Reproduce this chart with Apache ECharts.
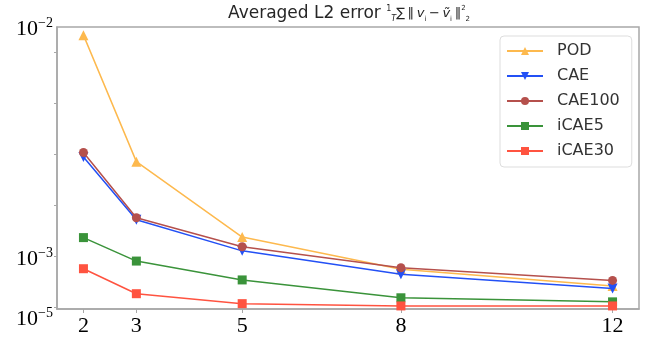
<!DOCTYPE html>
<html>
<head>
<meta charset="utf-8">
<script src="https://cdn.jsdelivr.net/npm/echarts@6/dist/echarts.min.js"></script>
<style>html,body{margin:0;padding:0;background:#fff}#c{width:647px;height:342px}</style>
</head>
<body>
<div id="c"></div>
<script>
// categories (x values)
var xs = [2, 3, 5, 8, 12];
// series values (axis units of 1e-3, as drawn on the linear axis)
var pod    = [5.33, 2.85, 1.37, 0.74, 0.41];
var cae    = [2.94, 1.71, 1.10, 0.64, 0.36];
var cae100 = [3.03, 1.75, 1.18, 0.77, 0.52];
var icae5  = [1.36, 0.90, 0.53, 0.18, 0.10];
var icae30 = [0.75, 0.26, 0.065, 0.02, 0.02];
var seriesNames = ['POD', 'CAE', 'CAE100', 'iCAE5', 'iCAE30'];
// y tick positions and labels
var yTicks = [0, 1, 2, 3, 4, 5];
var yMin = -0.04, yMax = 5.49;
var yLabelVals = [0, 1, yMax];
var yLabelText = {0: ['10', '−5'], 1: ['10', '−3'], top: ['10', '−2']};

var colors = ['#FDB94E', '#2350F5', '#B5504C', '#3A933A', '#FF5340'];
var symbols = ['triangle', 'triangle', 'circle', 'rect', 'rect'];
var rotates = [0, 180, 0, 0, 0];
var sizes = [10, 10, 9, 9, 9];
var allData = [pod, cae, cae100, icae5, icae30];

function pairs(arr){ return xs.map(function(x,i){ return [x, arr[i]]; }); }

var chart = echarts.init(document.getElementById('c'), null, {renderer:'canvas'});
var series = allData.map(function(d, k){
  return {
    name: seriesNames[k], type: 'line', data: pairs(d),
    symbol: symbols[k], symbolRotate: rotates[k], symbolSize: sizes[k],
    lineStyle: {color: colors[k], width: 1.5},
    itemStyle: {color: colors[k]},
    z: 2 + k
  };
});

var tc = '#262626';
function rs(size, va, lh, extra){
  var o = {fontFamily: 'DejaVu Sans', fontSize: size, fontWeight: 'normal', color: tc, verticalAlign: va, lineHeight: lh};
  for (var k in (extra||{})) o[k] = extra[k];
  return o;
}
function sr(size, lh, pad){
  return {fontFamily: 'Liberation Serif', fontSize: size, color: '#000', verticalAlign: 'bottom', lineHeight: lh, padding: pad};
}
function lab(t){ return '{b|' + t[0] + '}{s|' + t[1] + '}'; }

chart.setOption({
  animation: false,
  title: {
    left: 223, top: 0,
    text: '{a|Averaged L2 error }{f|1}{ti|T}{m|∑\u2009‖\u2009}{i|v}{sb|i}{m|\u2009−\u2009}{i|ṽ}{sb|i}{m|\u2009‖}{sp|2}{sb|2}',
    textStyle: {
      fontWeight: 'normal',
      rich: {
        a: rs(17, 'middle', 18),
        f: rs(8, 'top', 9),
        ti: rs(8, 'bottom', 9, {fontStyle: 'italic'}),
        m: rs(13, 'middle', 18),
        i: rs(13, 'middle', 18, {fontStyle: 'italic'}),
        sb: rs(7, 'bottom', 8),
        sp: rs(7, 'top', 8)
      }
    }
  },
  grid: {left: 57, right: 8, top: 27, bottom: 33, show: true, borderColor: '#a8a8a8', borderWidth: 1.5, containLabel: false},
  legend: {
    orient: 'vertical', left: 500, top: 36,
    data: seriesNames,
    itemWidth: 36, itemHeight: 10, itemGap: 9,
    padding: [7, 12, 8, 6],
    backgroundColor: '#fff', borderColor: '#dddddd', borderWidth: 1, borderRadius: 4,
    textStyle: {fontFamily: 'DejaVu Sans', fontSize: 16, color: '#333', padding: [0, 0, 0, 9]}
  },
  xAxis: {
    type: 'value', min: 1.5, max: 12.5,
    axisLine: {show: true, onZero: false, lineStyle: {color: '#a8a8a8', width: 1.5}},
    axisTick: {show: true, customValues: xs, length: 4, lineStyle: {color: '#a8a8a8'}},
    axisLabel: {customValues: xs, fontFamily: 'Liberation Serif', fontSize: 22, color: '#000', margin: 6},
    splitLine: {show: false}
  },
  yAxis: {
    type: 'value', min: yMin, max: yMax,
    axisLine: {show: true, lineStyle: {color: '#a8a8a8', width: 1.5}},
    axisTick: {show: true, customValues: yTicks, length: 3, lineStyle: {color: '#a8a8a8'}},
    axisLabel: {
      customValues: yLabelVals, margin: 4,
      formatter: function(v){
        if (Math.abs(v - yMax) < 1e-6) return '{g5|\u2009}\n' + lab(yLabelText.top);
        if (Math.abs(v) < 1e-6) return '{g25|\u2009}\n' + lab(yLabelText[0]);
        return '{g7|\u2009}\n' + lab(yLabelText[1]);
      },
      rich: {
        b: sr(22, 22, [0,0,0,0]),
        s: sr(14, 14, [0,0,10,0]),
        g5: {fontSize: 2, lineHeight: 5},
        g7: {fontSize: 2, lineHeight: 7},
        g25: {fontSize: 2, lineHeight: 25}
      }
    },
    splitLine: {show: false}
  },
  series: series
});
</script>
</body>
</html>
